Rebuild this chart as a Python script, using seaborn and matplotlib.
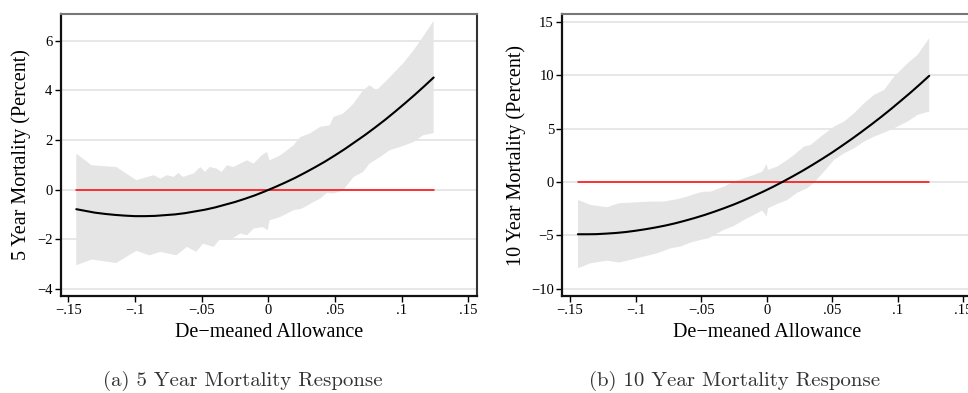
import matplotlib
matplotlib.use("Agg")
import matplotlib.pyplot as plt
import seaborn as sns

# ---------------- data ----------------
curve_x = [-0.144, -0.137, -0.13, -0.1225, -0.115, -0.1075, -0.1, -0.0925,
           -0.085, -0.0775, -0.07, -0.0625, -0.055, -0.0475, -0.04, -0.0325,
           -0.025, -0.0175, -0.01, -0.0025, 0.005, 0.0125, 0.02, 0.0275,
           0.035, 0.0425, 0.05, 0.0575, 0.065, 0.0725, 0.08, 0.0875,
           0.095, 0.1025, 0.11, 0.117, 0.124]
curve5_y = [-0.79, -0.86, -0.93, -0.98, -1.02, -1.05, -1.07, -1.07,
            -1.06, -1.03, -1.00, -0.95, -0.88, -0.81, -0.72, -0.61,
            -0.50, -0.37, -0.23, -0.07, 0.10, 0.28, 0.47, 0.68,
            0.90, 1.13, 1.38, 1.64, 1.92, 2.20, 2.50, 2.81,
            3.14, 3.48, 3.83, 4.17, 4.52]
curve10_y = [-4.90, -4.90, -4.89, -4.84, -4.78, -4.69, -4.57, -4.43,
             -4.27, -4.09, -3.88, -3.64, -3.38, -3.10, -2.79, -2.46,
             -2.11, -1.73, -1.32, -0.90, -0.45, 0.03, 0.53, 1.05,
             1.60, 2.17, 2.76, 3.39, 4.03, 4.70, 5.39, 6.10,
             6.84, 7.61, 8.39, 9.15, 9.93]

# 5-year confidence band
up5_x = [-0.144, -0.1325, -0.114, -0.099, -0.086, -0.081, -0.076, -0.071, -0.0675,
         -0.064, -0.056, -0.051, -0.0475, -0.044, -0.039, -0.035, -0.031, -0.026,
         -0.021, -0.016, -0.011, -0.005, -0.001, 0.001, 0.009, 0.019, 0.024, 0.031,
         0.039, 0.046, 0.049, 0.056, 0.064, 0.071, 0.076, 0.081, 0.089, 0.096,
         0.101, 0.109, 0.116, 0.124]
up5_y = [1.45, 0.98, 0.91, 0.38, 0.58, 0.44, 0.58, 0.51, 0.67,
         0.51, 0.65, 0.91, 0.71, 0.91, 0.85, 0.71, 0.98, 0.91,
         1.05, 1.18, 1.05, 1.38, 1.52, 1.18, 1.38, 1.79, 2.12, 2.26,
         2.53, 2.59, 2.93, 3.06, 3.47, 4.00, 4.21, 4.00, 4.41, 4.81,
         5.08, 5.62, 6.16, 6.80]
lo5_x = [-0.144, -0.1325, -0.114, -0.099, -0.089, -0.081, -0.069, -0.061, -0.054,
         -0.049, -0.041, -0.036, -0.029, -0.021, -0.016, -0.011, -0.004, -0.0005,
         0.001, 0.009, 0.019, 0.025, 0.034, 0.039, 0.044, 0.049, 0.056, 0.064,
         0.071, 0.076, 0.084, 0.091, 0.099, 0.109, 0.116, 0.124]
lo5_y = [-3.05, -2.82, -2.96, -2.47, -2.65, -2.51, -2.65, -2.31, -2.51,
         -2.18, -2.31, -1.98, -2.04, -1.77, -1.84, -1.57, -1.51, -1.64,
         -1.24, -1.10, -0.83, -0.77, -0.50, -0.36, -0.13, -0.16, -0.03, 0.51,
         0.71, 1.05, 1.32, 1.59, 1.72, 1.92, 2.19, 2.28]

# 10-year confidence band
up10_x = [-0.1439, -0.1345, -0.1217, -0.1128, -0.1039, -0.0886, -0.0784, -0.0682,
          -0.0606, -0.053, -0.0479, -0.0428, -0.0326, -0.025, -0.0173, -0.0097,
          -0.0033, 0.0, 0.001, 0.0081, 0.0158, 0.0209, 0.0285, 0.0336, 0.0413,
          0.0514, 0.0591, 0.0667, 0.0744, 0.082, 0.0896, 0.0973, 0.1075, 0.1151, 0.124]
up10_y = [-1.69, -2.15, -2.37, -2.00, -1.94, -1.84, -1.84, -1.62,
          -1.37, -1.06, -0.91, -0.91, -0.44, 0.03, 0.34, 0.66,
          0.97, 1.69, 1.12, 1.44, 2.06, 2.53, 3.31, 3.46, 4.24,
          5.18, 5.65, 6.43, 7.37, 8.15, 8.61, 9.86, 11.11, 11.89, 13.45]
lo10_x = [-0.1439, -0.1345, -0.1217, -0.1128, -0.1039, -0.0937, -0.0835, -0.0733,
          -0.0657, -0.0581, -0.0504, -0.0441, -0.0377, -0.0326, -0.025, -0.0173,
          -0.0097, -0.0033, 0.0, 0.001, 0.0081, 0.0158, 0.0234, 0.0311, 0.0362,
          0.0438, 0.0514, 0.0591, 0.0667, 0.0744, 0.082, 0.0896, 0.0973, 0.1075,
          0.1151, 0.124]
lo10_y = [-8.08, -7.62, -7.37, -7.55, -7.30, -6.99, -6.68, -6.21,
          -6.05, -5.68, -5.43, -5.27, -4.81, -4.49, -4.12, -3.56,
          -3.09, -2.68, -3.25, -2.47, -2.06, -1.69, -1.00, -0.59, -0.06,
          0.97, 2.06, 2.68, 3.15, 3.78, 4.24, 4.62, 5.02, 5.65,
          6.27, 6.59]

ref_x = [-0.144, 0.124]
ref_y = [0, 0]

x_ticks = [-0.15, -0.1, -0.05, 0, 0.05, 0.1, 0.15]
x_ticklabels = ["\u2212.15", "\u2212.1", "\u2212.05", "0", ".05", ".1", ".15"]
y5_ticks = [-4, -2, 0, 2, 4, 6]
y5_ticklabels = ["\u22124", "\u22122", "0", "2", "4", "6"]
y10_ticks = [-10, -5, 0, 5, 10, 15]
y10_ticklabels = ["\u221210", "\u22125", "0", "5", "10", "15"]

xlabel = "De\u2212meaned Allowance"
ylabel5 = "5 Year Mortality (Percent)"
ylabel10 = "10 Year Mortality (Percent)"
caption_a = "(a) 5 Year Mortality Response"
caption_b = "(b) 10 Year Mortality Response"

# ---------------- plotting ----------------
sns.set_theme(style="white")
plt.rcParams["font.family"] = ["Liberation Serif", "DejaVu Serif"]

fig = plt.figure(figsize=(9.68, 3.93), dpi=100)
ax1 = fig.add_axes([60.7 / 968, 97 / 393, 416 / 968, 282 / 393])
ax2 = fig.add_axes([562.3 / 968, 97 / 393, 409 / 968, 282 / 393])

panels = [
    (ax1, curve5_y, up5_x, up5_y, lo5_x, lo5_y, y5_ticks, y5_ticklabels,
     ylabel5, (-0.1557, 0.1563), (-4.29, 7.08)),
    (ax2, curve10_y, up10_x, up10_y, lo10_x, lo10_y, y10_ticks, y10_ticklabels,
     ylabel10, (-0.1559, 0.1561), (-10.68, 15.72)),
]

for (ax, cy, ux, uy, lx, ly, yt, ytl, ylab, xl, yl) in panels:
    ax.set_facecolor("white")
    for t in yt:
        ax.axhline(t, color="#e3e3e3", linewidth=1.2, zorder=0)
    poly_x = list(ux) + list(lx)[::-1]
    poly_y = list(uy) + list(ly)[::-1]
    ax.fill(poly_x, poly_y, color="#e5e5e5", linewidth=0, zorder=1)
    sns.lineplot(x=ref_x, y=ref_y, ax=ax, color="#ff0000", linewidth=1.1, zorder=2)
    sns.lineplot(x=curve_x, y=cy, ax=ax, color="black", linewidth=1.5, zorder=3)
    ax.set_xlim(*xl)
    ax.set_ylim(*yl)
    ax.set_xticks(x_ticks)
    ax.set_xticklabels(x_ticklabels)
    ax.set_yticks(yt)
    ax.set_yticklabels(ytl)
    ax.tick_params(axis="both", direction="out", length=4, width=1,
                   color="black", labelsize=10.5, pad=2, labelcolor="black",
                   bottom=True, left=True)
    ax.set_xlabel(xlabel, fontsize=14.5, labelpad=4, color="black")
    ax.set_ylabel(ylab, fontsize=14.5, labelpad=4, color="black")
    ax.grid(False)
    ax.spines["left"].set_color("#111111")
    ax.spines["left"].set_linewidth(1.6)
    ax.spines["bottom"].set_color("#111111")
    ax.spines["bottom"].set_linewidth(1.6)
    ax.spines["top"].set_color("#777777")
    ax.spines["top"].set_linewidth(1.5)
    ax.spines["right"].set_color("#333333")
    ax.spines["right"].set_linewidth(1.5)

fig.text(243 / 968, 1 - 381 / 393, caption_a, ha="center", va="center",
         fontsize=15, family=["cmr10", "DejaVu Serif"], color="#333333")
fig.text(735 / 968, 1 - 381 / 393, caption_b, ha="center", va="center",
         fontsize=15, family=["cmr10", "DejaVu Serif"], color="#333333")

fig.savefig("out.png", dpi=100)
